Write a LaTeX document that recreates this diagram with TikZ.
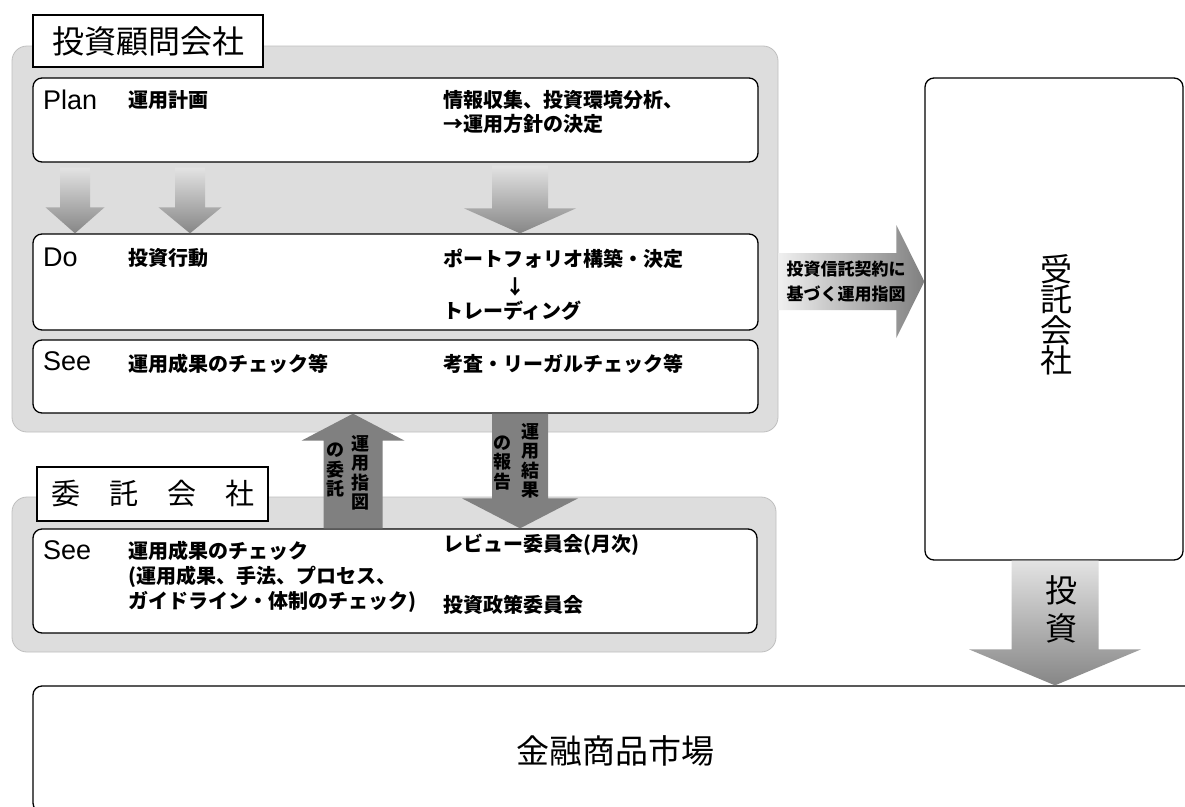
\documentclass[tikz,border=0pt]{standalone}
\usepackage{fontspec}
\newfontfamily\jp{Noto Sans CJK JP}
\newfontfamily\lat{Liberation Sans}
\usetikzlibrary{calc}
\newcommand{\blockdown}[6]{\path[#1] ($(#2)+(-#4,0)$) -- ($(#3)+(-#4,-#6)$) -- ($(#3)+(-#5,-#6)$) -- (#3) -- ($(#3)+(#5,-#6)$) -- ($(#3)+(#4,-#6)$) -- ($(#2)+(#4,0)$) -- cycle;}
\newcommand{\blockup}[6]{\path[#1] ($(#2)+(-#4,0)$) -- ($(#3)+(-#4,#6)$) -- ($(#3)+(-#5,#6)$) -- (#3) -- ($(#3)+(#5,#6)$) -- ($(#3)+(#4,#6)$) -- ($(#2)+(#4,0)$) -- cycle;}
\newcommand{\blockright}[6]{\path[#1] ($(#2)+(0,-#4)$) -- ($(#3)+(-#6,-#4)$) -- ($(#3)+(-#6,-#5)$) -- (#3) -- ($(#3)+(-#6,#5)$) -- ($(#3)+(-#6,#4)$) -- ($(#2)+(0,#4)$) -- cycle;}
\tikzset{
  region/.style={draw=gray!50, line width=0.8pt, fill=gray!27, rounded corners=15pt, inner sep=0pt},
  titlebox/.style={draw=black, line width=1.4pt, fill=white, inner sep=0pt, font=\jp\fontsize{32}{36}\selectfont},
  stagebox/.style={draw=black, line width=1.3pt, fill=white, rounded corners=9pt, inner sep=0pt},
  lbl/.style={anchor=west, inner sep=0pt, font=\jp\bfseries\fontsize{20}{24}\selectfont},
  pds/.style={anchor=west, inner sep=0pt, font=\lat\fontsize{27}{30}\selectfont},
  vtxt/.style={inner sep=0pt, align=center, font=\jp\bfseries\fontsize{18}{19.5}\selectfont},
  solidarrow/.style={fill=gray},
  vgrad/.style={top color=gray!22, bottom color=gray!95},
  hgrad/.style={left color=gray!12, right color=gray!100},
}
\begin{document}
\begin{tikzpicture}[x=1pt,y=-1pt]
\useasboundingbox[fill=white] (0,0) rectangle (1185,806);

% regions
\node[region, minimum width=766pt, minimum height=386pt] (adv) at (395,239) {};
\node[region, minimum width=764pt, minimum height=155pt] (cons) at (394,574.5) {};

% titles
\node[titlebox, minimum width=230pt, minimum height=52pt] (t1) at (148,41) {投資顧問会社};
\node[titlebox, minimum width=231pt, minimum height=54pt, font=\jp\fontsize{29}{34}\selectfont] (t2) at (152.5,494) {委　託　会　社};

% stage boxes
\node[stagebox, minimum width=725pt, minimum height=84pt] (plan) at (395.5,120) {};
\node[stagebox, minimum width=725pt, minimum height=96pt] (do) at (395.5,282) {};
\node[stagebox, minimum width=725pt, minimum height=73pt] (see) at (395.5,376.5) {};
\node[stagebox, minimum width=724pt, minimum height=104pt] (see2) at (395,581) {};

% trustee and market
\node[stagebox, minimum width=258pt, minimum height=482pt] (trust) at (1054,319) {};
\node[stagebox, minimum width=1170pt, minimum height=126pt] (market) at (618,749) {};

% arrows plan -> do
\coordinate (ax1) at (75,0);
\coordinate (ax2) at (190,0);
\coordinate (ax3) at (520,0);
\coordinate (a1t) at ($(plan.south -| ax1)+(0,5)$);
\coordinate (a1b) at (do.north -| ax1);
\coordinate (a2t) at ($(plan.south -| ax2)+(0,5)$);
\coordinate (a2b) at (do.north -| ax2);
\coordinate (a3t) at ($(plan.south -| ax3)+(0,3)$);
\coordinate (a3b) at (do.north -| ax3);
\blockdown{vgrad}{a1t}{a1b}{15}{29.5}{26}
\blockdown{vgrad}{a2t}{a2b}{15}{31.5}{26}
\blockdown{vgrad}{a3t}{a3b}{28}{56}{25}

% arrows between see boxes
\coordinate (ux) at (353,0);
\coordinate (dx) at (520,0);
\coordinate (ut) at (see2.north -| ux);
\coordinate (ub) at (see.south -| ux);
\coordinate (dt) at (see.south -| dx);
\coordinate (db) at (see2.north -| dx);
\blockup{solidarrow}{ut}{ub}{29.5}{51.5}{27}
\blockdown{solidarrow}{dt}{db}{28}{58}{30}

% arrow to trustee
\coordinate (hy) at (0,281.5);
\coordinate (ht) at (adv.east |- hy);
\coordinate (hb) at (trust.west |- hy);
\blockright{hgrad}{ht}{hb}{28.5}{56.5}{28}

% arrow trustee -> market
\coordinate (ix) at (1055,0);
\coordinate (it) at (trust.south -| ix);
\coordinate (ib) at (market.north -| ix);
\blockdown{vgrad}{it}{ib}{43.5}{86}{36}

% Plan texts
\node[pds] (plnl) at (43,100) {Plan};
\node[lbl] (pl1) at (128,100) {運用計画};
\node[lbl] (pl2) at (443,100) {情報収集、投資環境分析、};
\node[lbl] (pl3) at (443,124) {→運用方針の決定};

% Do texts
\node[pds] (dol) at (43,257) {Do};
\node[lbl] (do1) at (128,258) {投資行動};
\node[lbl] (do2) at (443,259) {ポートフォリオ構築・決定};
\node[inner sep=0pt, font=\jp\bfseries\fontsize{20}{24}\selectfont] (do3) at (515,287) {↓};
\node[lbl] (do4) at (443,311) {トレーディング};

% See texts
\node[pds] (sel) at (43,361) {See};
\node[lbl] (se1) at (128,364) {運用成果のチェック等};
\node[lbl] (se2) at (443,364) {考査・リーガルチェック等};

% See (consignor) texts
\node[pds] (s2l) at (43,550) {See};
\node[lbl] (s21) at (128,551) {運用成果のチェック};
\node[lbl] (s22) at (128,577) {(運用成果、手法、プロセス、};
\node[lbl] (s23) at (128,602) {ガイドライン・体制のチェック)};
\node[lbl] (s24) at (443,545) {レビュー委員会(月次)};
\node[lbl] (s25) at (443,605) {投資政策委員会};

% vertical arrow texts
\node[vtxt] (u1) at (360,473) {運\\用\\指\\図};
\node[vtxt] (u2) at (335,470) {の\\委\\託};
\node[vtxt] (d1) at (530,461) {運\\用\\結\\果};
\node[vtxt] (d2) at (502,463) {の\\報\\告};

% horizontal arrow text
\node[inner sep=0pt, align=center, font=\jp\bfseries\fontsize{17}{25}\selectfont] (hl) at (846,282) {投資信託契約に\\基づく運用指図};

% trustee / invest / market texts
\node[inner sep=0pt, align=center, font=\jp\fontsize{32}{30.5}\selectfont] (trl) at (1056,315) {受\\託\\会\\社};
\node[inner sep=0pt, align=center, font=\jp\fontsize{32}{38}\selectfont] (inv) at (1061,609) {投\\資};
\node[inner sep=0pt, font=\jp\fontsize{33}{38}\selectfont] (mkt) at (615,751) {金融商品市場};
\end{tikzpicture}
\end{document}
